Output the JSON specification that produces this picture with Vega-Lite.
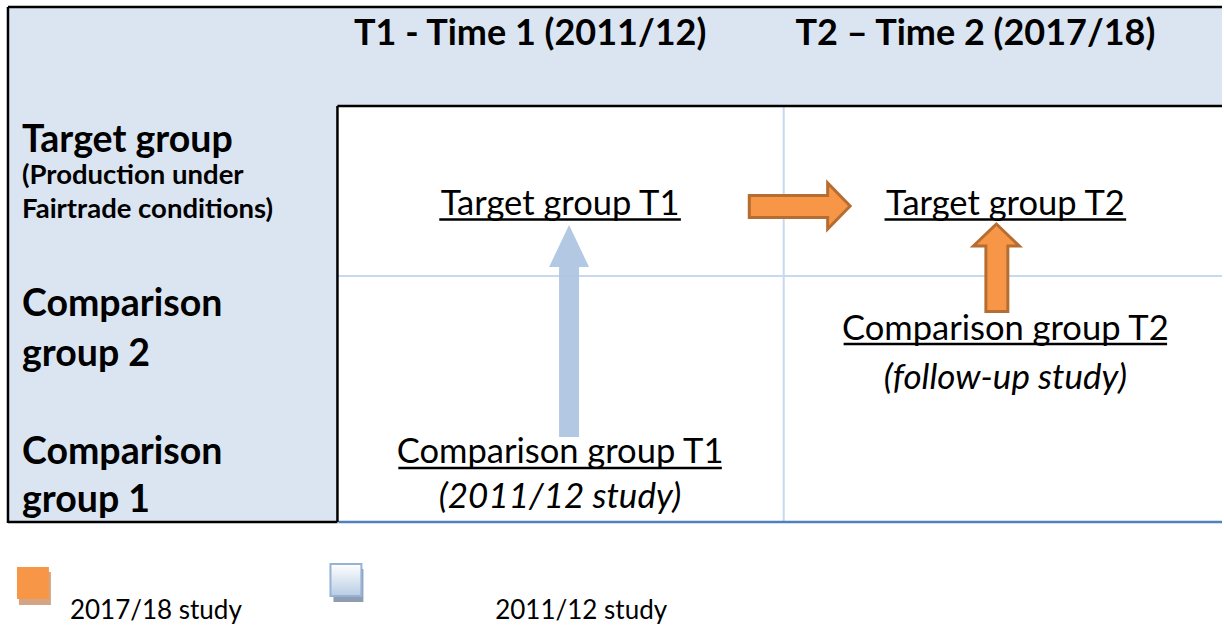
{
  "$schema": "https://vega.github.io/schema/vega-lite/v6.json",
  "width": 1224,
  "height": 625,
  "padding": 0,
  "autosize": {"type": "fit", "contains": "padding"},
  "background": "white",
  "config": {"view": {"stroke": null}},
  "datasets": {
    "panels": [
      {"part": "header band", "x": 8, "x2": 1224, "y": 7, "y2": 106},
      {"part": "row label column", "x": 8, "x2": 338, "y": 106, "y2": 522}
    ],
    "gridlines": [
      {"x": 785, "x2": 785, "y": 106, "y2": 522},
      {"x": 338, "x2": 1224, "y": 276, "y2": 276}
    ],
    "borders": [
      {"x": 8, "x2": 1224, "y": 7, "y2": 7},
      {"x": 8, "x2": 8, "y": 7, "y2": 523},
      {"x": 8, "x2": 338, "y": 522, "y2": 522},
      {"x": 338, "x2": 338, "y": 106, "y2": 522},
      {"x": 338, "x2": 1224, "y": 106, "y2": 106}
    ],
    "bottomline": [
      {"x": 339, "x2": 1224, "y": 522, "y2": 522}
    ],
    "underlines": [
      {"label": "Target group T1", "x": 440, "x2": 682, "y": 219.5, "y2": 219.5},
      {"label": "Target group T2", "x": 886, "x2": 1128, "y": 219.5, "y2": 219.5},
      {"label": "Comparison group T2", "x": 845, "x2": 1169, "y": 344, "y2": 344},
      {"label": "Comparison group T1", "x": 399, "x2": 723, "y": 468, "y2": 468}
    ],
    "bluearrow": [
      {"arrow": "T1 comparison", "order": 1, "x": 570, "y": 225},
      {"arrow": "T1 comparison", "order": 2, "x": 590, "y": 267},
      {"arrow": "T1 comparison", "order": 3, "x": 580, "y": 267},
      {"arrow": "T1 comparison", "order": 4, "x": 580, "y": 437},
      {"arrow": "T1 comparison", "order": 5, "x": 560, "y": 437},
      {"arrow": "T1 comparison", "order": 6, "x": 560, "y": 267},
      {"arrow": "T1 comparison", "order": 7, "x": 550, "y": 267}
    ],
    "orangearrows": [
      {"arrow": "T1 to T2", "order": 1, "x": 750.5, "y": 195.5},
      {"arrow": "T1 to T2", "order": 2, "x": 829, "y": 195.5},
      {"arrow": "T1 to T2", "order": 3, "x": 829, "y": 183},
      {"arrow": "T1 to T2", "order": 4, "x": 851.5, "y": 206},
      {"arrow": "T1 to T2", "order": 5, "x": 829, "y": 229},
      {"arrow": "T1 to T2", "order": 6, "x": 829, "y": 217.5},
      {"arrow": "T1 to T2", "order": 7, "x": 750.5, "y": 217.5},
      {"arrow": "T2 comparison", "order": 1, "x": 998, "y": 224},
      {"arrow": "T2 comparison", "order": 2, "x": 1021, "y": 246},
      {"arrow": "T2 comparison", "order": 3, "x": 1009.5, "y": 246},
      {"arrow": "T2 comparison", "order": 4, "x": 1009.5, "y": 311.5},
      {"arrow": "T2 comparison", "order": 5, "x": 987.5, "y": 311.5},
      {"arrow": "T2 comparison", "order": 6, "x": 987.5, "y": 246},
      {"arrow": "T2 comparison", "order": 7, "x": 975, "y": 246}
    ],
    "orangekey": [{"key": "2017/18 study", "x": 17, "x2": 49, "y": 567, "y2": 599}],
    "orangekeyshadow": [{"key": "2017/18 study", "x": 19, "x2": 51, "y": 572, "y2": 605}],
    "bluekey": [{"key": "2011/12 study", "x": 331, "x2": 362, "y": 564, "y2": 596}],
    "bluekeyshadow": [{"key": "2011/12 study", "x": 334, "x2": 364, "y": 569, "y2": 602}],
    "headers": [
      {"text": "T1 - Time 1 (2011/12)", "x": 531, "y": 45},
      {"text": "T2 – Time 2 (2017/18)", "x": 977, "y": 45}
    ],
    "rowlabels": [
      {"text": "Target group", "x": 22, "y": 152},
      {"text": "Comparison", "x": 22, "y": 316},
      {"text": "group 2", "x": 22, "y": 366},
      {"text": "Comparison", "x": 22, "y": 464},
      {"text": "group 1", "x": 22, "y": 512}
    ],
    "sublabels": [
      {"text": "(Production under", "x": 22, "y": 184},
      {"text": "Fairtrade conditions)", "x": 22, "y": 218}
    ],
    "cells": [
      {"text": "Target group T1", "x": 561, "y": 215},
      {"text": "Target group T2", "x": 1007, "y": 215},
      {"text": "Comparison group T2", "x": 1007, "y": 340},
      {"text": "Comparison group T1", "x": 561, "y": 463}
    ],
    "notes": [
      {"text": "(follow-up study)", "x": 1007, "y": 389},
      {"text": "(2011/12 study)", "x": 561, "y": 508}
    ],
    "keys": [
      {"text": "2017/18 study", "x": 70, "y": 619},
      {"text": "2011/12 study", "x": 496, "y": 619}
    ]
  },
  "layer": [
    {
      "data": {"name": "panels"},
      "mark": {"type": "rect", "fill": "#dbe5f1"},
      "encoding": {
        "x": {"field": "x", "type": "quantitative", "scale": {"domain": [0, 1224], "nice": false, "zero": false}, "axis": null},
        "x2": {"field": "x2"},
        "y": {"field": "y", "type": "quantitative", "scale": {"domain": [0, 625], "nice": false, "zero": false, "reverse": true}, "axis": null},
        "y2": {"field": "y2"}
      }
    },
    {
      "data": {"name": "gridlines"},
      "mark": {"type": "rule", "stroke": "#c6d9f1", "strokeWidth": 2},
      "encoding": {
        "x": {"field": "x", "type": "quantitative"},
        "x2": {"field": "x2"},
        "y": {"field": "y", "type": "quantitative"},
        "y2": {"field": "y2"}
      }
    },
    {
      "data": {"name": "bottomline"},
      "mark": {"type": "rule", "stroke": "#4f81bd", "strokeWidth": 2.5},
      "encoding": {
        "x": {"field": "x", "type": "quantitative"},
        "x2": {"field": "x2"},
        "y": {"field": "y", "type": "quantitative"},
        "y2": {"field": "y2"}
      }
    },
    {
      "data": {"name": "borders"},
      "mark": {"type": "rule", "stroke": "#000000", "strokeWidth": 2.5},
      "encoding": {
        "x": {"field": "x", "type": "quantitative"},
        "x2": {"field": "x2"},
        "y": {"field": "y", "type": "quantitative"},
        "y2": {"field": "y2"}
      }
    },
    {
      "data": {"name": "bluearrow"},
      "mark": {"type": "line", "interpolate": "linear-closed", "fill": "#afc5e2", "fillOpacity": 0.95, "stroke": null, "strokeWidth": 0},
      "encoding": {
        "x": {"field": "x", "type": "quantitative"},
        "y": {"field": "y", "type": "quantitative"},
        "order": {"field": "order", "type": "quantitative"},
        "detail": {"field": "arrow", "type": "nominal"}
      }
    },
    {
      "data": {"name": "orangearrows"},
      "mark": {"type": "line", "interpolate": "linear-closed", "fill": "#f79646", "stroke": "#b66d31", "strokeWidth": 3, "strokeJoin": "miter"},
      "encoding": {
        "x": {"field": "x", "type": "quantitative"},
        "y": {"field": "y", "type": "quantitative"},
        "order": {"field": "order", "type": "quantitative"},
        "detail": {"field": "arrow", "type": "nominal"}
      }
    },
    {
      "data": {"name": "underlines"},
      "mark": {"type": "rule", "stroke": "#000000", "strokeWidth": 2.5},
      "encoding": {
        "x": {"field": "x", "type": "quantitative"},
        "x2": {"field": "x2"},
        "y": {"field": "y", "type": "quantitative"},
        "y2": {"field": "y2"}
      }
    },
    {
      "data": {"name": "orangekeyshadow"},
      "mark": {"type": "rect", "fill": "#d4a585"},
      "encoding": {
        "x": {"field": "x", "type": "quantitative"},
        "x2": {"field": "x2"},
        "y": {"field": "y", "type": "quantitative"},
        "y2": {"field": "y2"}
      }
    },
    {
      "data": {"name": "orangekey"},
      "mark": {"type": "rect", "fill": "#f79646"},
      "encoding": {
        "x": {"field": "x", "type": "quantitative"},
        "x2": {"field": "x2"},
        "y": {"field": "y", "type": "quantitative"},
        "y2": {"field": "y2"}
      }
    },
    {
      "data": {"name": "bluekeyshadow"},
      "mark": {"type": "rect", "fill": "#8f9db3"},
      "encoding": {
        "x": {"field": "x", "type": "quantitative"},
        "x2": {"field": "x2"},
        "y": {"field": "y", "type": "quantitative"},
        "y2": {"field": "y2"}
      }
    },
    {
      "data": {"name": "bluekey"},
      "mark": {
        "type": "rect",
        "stroke": "#95b3d7",
        "strokeWidth": 2,
        "fill": {"gradient": "linear", "x1": 0, "y1": 0, "x2": 0, "y2": 1, "stops": [{"offset": 0, "color": "#ffffff"}, {"offset": 1, "color": "#b8cce4"}]}
      },
      "encoding": {
        "x": {"field": "x", "type": "quantitative"},
        "x2": {"field": "x2"},
        "y": {"field": "y", "type": "quantitative"},
        "y2": {"field": "y2"}
      }
    },
    {
      "data": {"name": "headers"},
      "mark": {"type": "text", "font": "Lato", "fontWeight": "bold", "fontSize": 36, "align": "center", "baseline": "alphabetic", "color": "#000000"},
      "encoding": {
        "x": {"field": "x", "type": "quantitative"},
        "y": {"field": "y", "type": "quantitative"},
        "text": {"field": "text"}
      }
    },
    {
      "data": {"name": "rowlabels"},
      "mark": {"type": "text", "font": "Lato", "fontWeight": "bold", "fontSize": 37.5, "align": "left", "baseline": "alphabetic", "color": "#000000"},
      "encoding": {
        "x": {"field": "x", "type": "quantitative"},
        "y": {"field": "y", "type": "quantitative"},
        "text": {"field": "text"}
      }
    },
    {
      "data": {"name": "sublabels"},
      "mark": {"type": "text", "font": "Lato", "fontWeight": "bold", "fontSize": 27.5, "align": "left", "baseline": "alphabetic", "color": "#000000"},
      "encoding": {
        "x": {"field": "x", "type": "quantitative"},
        "y": {"field": "y", "type": "quantitative"},
        "text": {"field": "text"}
      }
    },
    {
      "data": {"name": "cells"},
      "mark": {"type": "text", "font": "Lato", "fontSize": 34.5, "align": "center", "baseline": "alphabetic", "color": "#000000"},
      "encoding": {
        "x": {"field": "x", "type": "quantitative"},
        "y": {"field": "y", "type": "quantitative"},
        "text": {"field": "text"}
      }
    },
    {
      "data": {"name": "notes"},
      "mark": {"type": "text", "font": "Lato", "fontStyle": "italic", "fontSize": 35, "align": "center", "baseline": "alphabetic", "color": "#000000"},
      "encoding": {
        "x": {"field": "x", "type": "quantitative"},
        "y": {"field": "y", "type": "quantitative"},
        "text": {"field": "text"}
      }
    },
    {
      "data": {"name": "keys"},
      "mark": {"type": "text", "font": "Lato", "fontSize": 26, "align": "left", "baseline": "alphabetic", "color": "#000000"},
      "encoding": {
        "x": {"field": "x", "type": "quantitative"},
        "y": {"field": "y", "type": "quantitative"},
        "text": {"field": "text"}
      }
    }
  ]
}
